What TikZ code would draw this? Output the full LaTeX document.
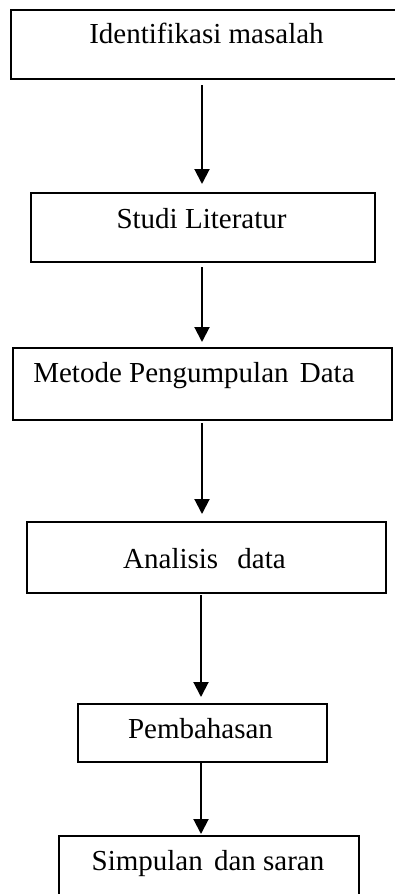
\documentclass[tikz,border=0pt]{standalone}
\usepackage{fontspec}
\setmainfont{Liberation Serif}
\usetikzlibrary{arrows.meta}
\tikzset{
  box/.style={draw, line width=2pt, rectangle, inner sep=0pt},
  lbl/.style={anchor=base, inner sep=0pt, font=\fontsize{29}{34}\selectfont},
  arr/.style={line width=2pt, -{Triangle[length=15pt,width=15pt]}}
}
\begin{document}
\begin{tikzpicture}[x=1pt,y=-1pt]
\useasboundingbox (0,0) rectangle (395,894);
\node[box, minimum width=389pt, minimum height=69pt] (b1) at (205.5,44.5) {};
\node[box, minimum width=344pt, minimum height=69pt] (b2) at (203,227.5) {};
\node[box, minimum width=379pt, minimum height=72pt] (b3) at (202.5,384) {};
\node[box, minimum width=359pt, minimum height=71pt] (b4) at (206.5,557.5) {};
\node[box, minimum width=249pt, minimum height=58pt] (b5) at (202.5,733) {};
\node[box, minimum width=300pt, minimum height=69pt] (b6) at (209,870.5) {};
\node[lbl] (t1) at (206.5,43) {Identifikasi masalah};
\node[lbl] (t2) at (201.5,228) {Studi Literatur};
\node[lbl] (t3) at (194,382) {Metode Pengumpulan\hspace{4pt} Data};
\node[lbl] (t4) at (204.5,568) {Analisis\hspace{12pt} data};
\node[lbl] (t5) at (200.5,738) {Pembahasan};
\node[lbl] (t6) at (208,870) {Simpulan\hspace{4pt} dan saran};
\coordinate (ax) at (202,0);
\coordinate (bx) at (201,0);
\draw[arr, shorten <=5pt, shorten >=8pt] (b1.south -| ax) -- (b2.north -| ax);
\draw[arr, shorten <=4pt, shorten >=5pt] (b2.south -| ax) -- (b3.north -| ax);
\draw[arr, shorten <=2pt, shorten >=7pt] (b3.south -| ax) -- (b4.north -| ax);
\draw[arr, shorten <=1pt, shorten >=6pt] (b4.south -| bx) -- (b5.north -| bx);
\draw[arr, shorten >=1pt] (b5.south -| bx) -- (b6.north -| bx);
\end{tikzpicture}
\end{document}
